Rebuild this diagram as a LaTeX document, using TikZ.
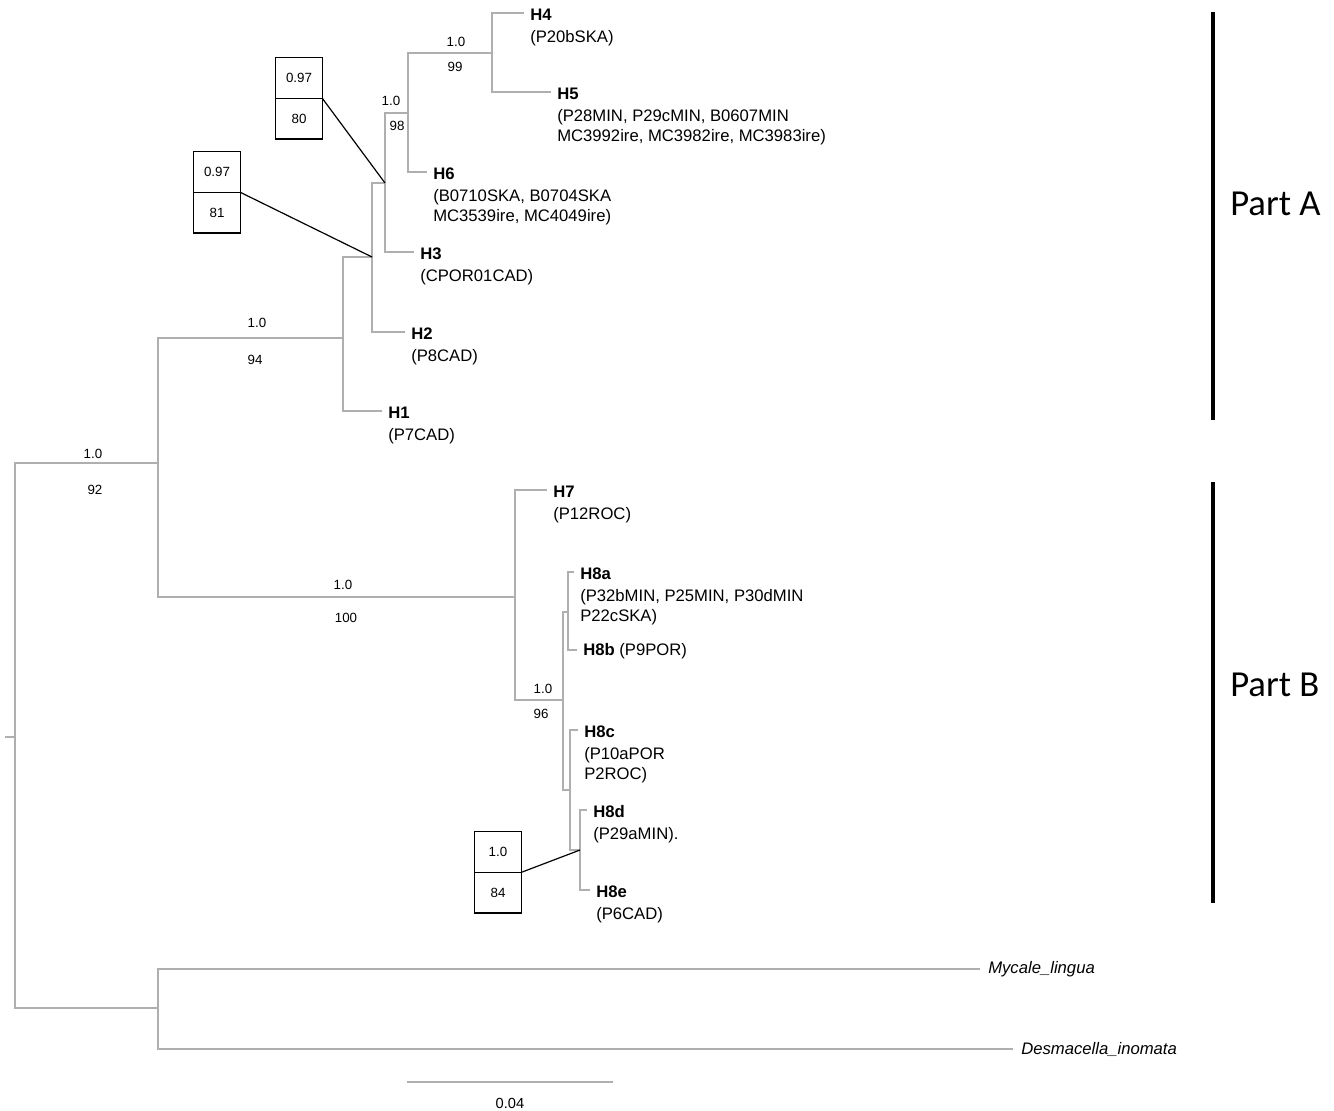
\documentclass[tikz,border=0pt]{standalone}
\usepackage{fontspec}
\setmainfont{Liberation Sans}
\newfontfamily\partfont{Carlito}
\usetikzlibrary{positioning}

\definecolor{treegray}{RGB}{175,175,175}

\begin{document}
\begin{tikzpicture}[x=0.75pt,y=-0.75pt,
   branch/.style={draw=treegray,line width=0.9pt},
   hname/.style={anchor=west,inner xsep=4.5pt,inner ysep=3.5pt,text height=11.5pt,font=\fontsize{12.5}{15}\selectfont\bfseries},
   hsub/.style={anchor=north west,align=left,inner xsep=4.5pt,inner ysep=3.5pt,font=\fontsize{12.5}{15}\selectfont},
   outgrp/.style={anchor=west,inner xsep=6pt,font=\fontsize{12.5}{15}\selectfont\itshape},
   supp/.style={inner sep=0pt,font=\fontsize{10}{12}\selectfont},
   cell/.style={draw,line width=1.2pt,outer sep=0pt,minimum width=35pt,minimum height=30.5pt,inner sep=0pt,font=\fontsize{10}{12}\selectfont},
   pointer/.style={draw,line width=0.9pt},
   partbar/.style={line width=3pt},
   partlbl/.style={anchor=west,inner sep=0pt,font=\partfont\fontsize{27.5}{32}\selectfont}]
 \useasboundingbox (0,0) rectangle (1334,1110);

 % internal nodes of the tree
 \coordinate (stub) at (5,737);
 \coordinate (root) at (15,737);
 \coordinate (ni) at (158,463);
 \coordinate (og) at (158,1008);
 \coordinate (pa) at (343,338);
 \coordinate (n2) at (372,257);
 \coordinate (n3) at (385,183);
 \coordinate (n4) at (408,113);
 \coordinate (n5) at (492,53);
 \coordinate (pb) at (515,597);
 \coordinate (n6) at (563,700);
 \coordinate (n7) at (568,612);
 \coordinate (n8) at (570,790);
 \coordinate (n9) at (580,850);

 % haplotypes, Part A
 \node[hname] (h4) at (524,13) {H4};
 \node[hsub] (h4s) at (h4.south west) {(P20bSKA)};
 \node[hname] (h5) at (551,92) {H5};
 \node[hsub] (h5s) at (h5.south west) {(P28MIN, P29cMIN, B0607MIN\\MC3992ire, MC3982ire, MC3983ire)};
 \node[hname] (h6) at (427,172) {H6};
 \node[hsub] (h6s) at (h6.south west) {(B0710SKA, B0704SKA\\MC3539ire, MC4049ire)};
 \node[hname] (h3) at (414,252) {H3};
 \node[hsub] (h3s) at (h3.south west) {(CPOR01CAD)};
 \node[hname] (h2) at (405,332) {H2};
 \node[hsub] (h2s) at (h2.south west) {(P8CAD)};
 \node[hname] (h1) at (382,411) {H1};
 \node[hsub] (h1s) at (h1.south west) {(P7CAD)};

 % haplotypes, Part B
 \node[hname] (h7) at (547,490) {H7};
 \node[hsub] (h7s) at (h7.south west) {(P12ROC)};
 \node[hname] (h8a) at (574,572) {H8a};
 \node[hsub] (h8as) at (h8a.south west) {(P32bMIN, P25MIN, P30dMIN\\P22cSKA)};
 \node[hname] (h8b) at (577,650) {H8b {\mdseries (P9POR)}};
 \node[hname] (h8c) at (578,730) {H8c};
 \node[hsub] (h8cs) at (h8c.south west) {(P10aPOR\\P2ROC)};
 \node[hname] (h8d) at (587,810) {H8d};
 \node[hsub] (h8ds) at (h8d.south west) {(P29aMIN).};
 \node[hname] (h8e) at (590,890) {H8e};
 \node[hsub] (h8es) at (h8e.south west) {(P6CAD)};

 % outgroup
 \node[outgrp] (myc) at (980,969) {Mycale\_lingua};
 \node[outgrp] (des) at (1013,1049) {Desmacella\_inomata};

 % branches
 \draw[branch] (stub) -- (root);
 \draw[branch] (root) |- (ni);
 \draw[branch] (root) |- (og);
 \draw[branch] (og) |- (myc);
 \draw[branch] (og) |- (des);
 \draw[branch] (ni) |- (pa);
 \draw[branch] (ni) |- (pb);
 \draw[branch] (pa) |- (n2);
 \draw[branch] (pa) |- (h1);
 \draw[branch] (n2) |- (n3);
 \draw[branch] (n2) |- (h2);
 \draw[branch] (n3) |- (n4);
 \draw[branch] (n3) |- (h3);
 \draw[branch] (n4) |- (n5);
 \draw[branch] (n4) |- (h6);
 \draw[branch] (n5) |- (h4);
 \draw[branch] (n5) |- (h5);
 \draw[branch] (pb) |- (h7);
 \draw[branch] (pb) |- (n6);
 \draw[branch] (n6) |- (n7);
 \draw[branch] (n6) |- (n8);
 \draw[branch] (n7) |- (h8a);
 \draw[branch] (n7) |- (h8b);
 \draw[branch] (n8) |- (h8c);
 \draw[branch] (n8) |- (n9);
 \draw[branch] (n9) |- (h8d);
 \draw[branch] (n9) |- (h8e);

 % support values
 \node[supp] (s1p) at (93,454) {1.0};
 \node[supp] (s1b) at (95,490) {92};
 \node[supp] (s2p) at (257,323) {1.0};
 \node[supp] (s2b) at (255,360) {94};
 \node[supp] (s3p) at (343,585) {1.0};
 \node[supp] (s3b) at (346,618) {100};
 \node[supp] (s4p) at (391,101) {1.0};
 \node[supp] (s4b) at (397,126) {98};
 \node[supp] (s5p) at (456,42) {1.0};
 \node[supp] (s5b) at (455,67) {99};
 \node[supp] (s6p) at (543,689) {1.0};
 \node[supp] (s6b) at (541,714) {96};

 % boxed supports
 \node[cell] (bt1) at (299,78) {0.97};
 \node[cell,below=0pt of bt1] (bb1) {80};
 \draw[pointer] (bt1.south east) -- (n3);
 \node[cell] (bt2) at (217,172) {0.97};
 \node[cell,below=0pt of bt2] (bb2) {81};
 \draw[pointer] (bt2.south east) -- (n2);
 \node[cell] (bt3) at (498,852) {1.0};
 \node[cell,below=0pt of bt3] (bb3) {84};
 \draw[pointer] (bt3.south east) -- (n9);

 % scale bar
 \coordinate (sc1) at (407,1082);
 \coordinate (sc2) at (613,1082);
 \draw[branch] (sc1) -- (sc2);
 \node[supp,font=\fontsize{11}{13}\selectfont] (scl) at (510,1103) {0.04};

 % parts
 \coordinate (pa1) at (1213,12);
 \coordinate (pa2) at (1213,420);
 \coordinate (pb1) at (1213,482);
 \coordinate (pb2) at (1213,903);
 \draw[partbar] (pa1) -- (pa2);
 \draw[partbar] (pb1) -- (pb2);
 \node[partlbl] (lpa) at (1230,204) {Part A};
 \node[partlbl] (lpb) at (1230,685) {Part B};
\end{tikzpicture}
\end{document}
